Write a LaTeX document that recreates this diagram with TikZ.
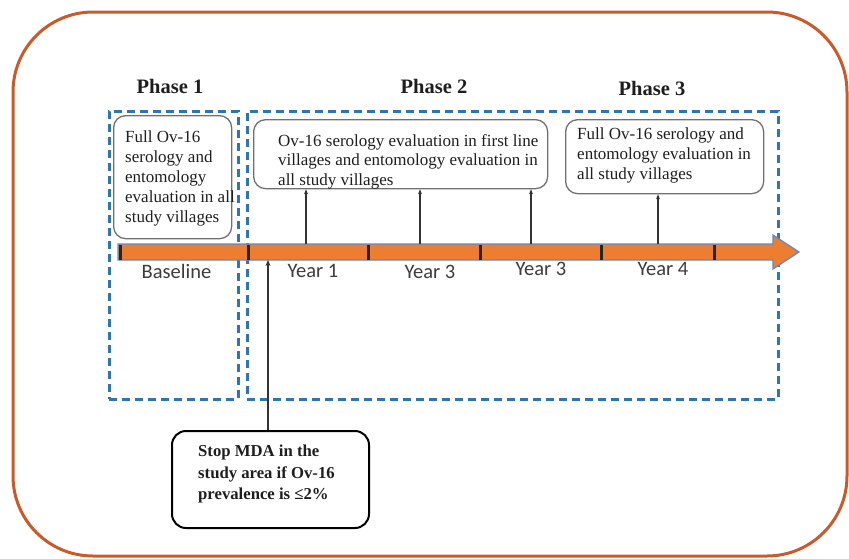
\documentclass[tikz,border=0pt]{standalone}
\usepackage{fontspec}
\setmainfont{Liberation Serif}
\newfontfamily\carlito{Carlito}
\usetikzlibrary{arrows.meta}
\definecolor{outerc}{RGB}{201,90,42}
\definecolor{dashc}{RGB}{46,117,182}
\definecolor{barc}{RGB}{237,125,49}
\definecolor{baredge}{RGB}{91,140,205}
\definecolor{boxgray}{RGB}{112,112,112}
\definecolor{txtc}{RGB}{30,30,30}
\definecolor{lblc}{RGB}{60,60,60}
\begin{document}
\begin{tikzpicture}[x=1pt,y=-1pt,
  phasebox/.style={draw=dashc, line width=2.5pt, dash pattern=on 8pt off 5pt, anchor=north west, inner sep=0pt},
  txtbox/.style={draw=boxgray, line width=1.3pt, rounded corners=12pt, anchor=north west, inner sep=0pt},
  stopbox/.style={draw=black, line width=2pt, rounded corners=14pt, anchor=north west, inner sep=0pt},
  boxtext/.style={anchor=north west, inner sep=0pt, align=left, text=txtc, font=\fontsize{17}{20}\selectfont},
  stoptext/.style={anchor=north west, inner sep=0pt, align=left, text=txtc, font=\bfseries\fontsize{16.7}{21.5}\selectfont},
  phaselbl/.style={anchor=base, inner sep=0pt, font=\bfseries\fontsize{20.5}{24}\selectfont, text=txtc},
  yearlbl/.style={anchor=base, inner sep=0pt, font=\carlito\fontsize{20.5}{24}\selectfont, text=lblc},
  tickmark/.style={line width=3pt, draw=black!85},
  uparrow/.style={draw=black!80, line width=1.2pt, -{Stealth[length=5pt,width=4pt]}},
  mdaarrow/.style={draw=black!80, line width=2pt, -{Stealth[length=6pt,width=5pt]}}
]
\useasboundingbox (0,0) rectangle (849,558);
% outer frame
\draw[outerc, line width=3pt, rounded corners=80pt] (13,12) rectangle (847,556);

% phase labels
\node[phaselbl] (ph1) at (170,93) {Phase 1};
\node[phaselbl] (ph2) at (434,93) {Phase 2};
\node[phaselbl] (ph3) at (652,95) {Phase 3};

% dashed phase boxes
\node[phasebox, minimum width=129pt, minimum height=288pt] (p1) at (108,110) {};
\node[phasebox, minimum width=531pt, minimum height=288pt] (p2) at (246,110) {};

% text boxes
\node[txtbox, minimum width=118pt, minimum height=123pt] (b1) at (113,115) {};
\node[boxtext] (t1) at (125,130) {Full Ov-16\\serology and\\entomology\\evaluation in all\\study villages};

\node[txtbox, minimum width=294pt, minimum height=69pt] (b2) at (253,119) {};
\node[boxtext, font=\fontsize{17}{19.5}\selectfont] (t2) at (278,134) {Ov-16 serology evaluation in first line\\villages and entomology evaluation in\\all study villages};

\node[txtbox, minimum width=198pt, minimum height=74pt] (b3) at (565,119) {};
\node[boxtext] (t3) at (577,127) {Full Ov-16 serology and\\entomology evaluation in\\all study villages};

\node[stopbox, minimum width=197pt, minimum height=97pt] (b4) at (171,430) {};
\node[stoptext] (t4) at (198,445) {Stop MDA in the\\study area if Ov-16\\prevalence is ≤2\%};

% timeline bar
\draw[fill=barc, draw=baredge, line width=1.2pt, line join=miter]
  (118,244) -- (773,244) -- (773,235) -- (799,252) -- (773,269) -- (773,260) -- (118,260) -- cycle;
\foreach \x/\n in {120/k0,248/k1,368/k2,480/k3,601/k4,714/k5}{
  \coordinate (\n t) at (\x,244.5);
  \coordinate (\n b) at (\x,259.5);
  \draw[tickmark] (\n t) -- (\n b);
}

% year labels
\node[yearlbl] (yb) at (176.5,278) {Baseline};
\node[yearlbl] (y1) at (313,277) {Year 1};
\node[yearlbl] (y2) at (430,278) {Year 3};
\node[yearlbl] (y3) at (541,275) {Year 3};
\node[yearlbl] (y4) at (663,275) {Year 4};

% up arrows
\coordinate (a1) at (306,244);
\coordinate (a2) at (420,244);
\coordinate (a3) at (531,244);
\coordinate (a4) at (658,244);
\draw[uparrow] (a1) -- (a1 |- b2.south);
\draw[uparrow] (a2) -- (a2 |- b2.south);
\draw[uparrow] (a3) -- (a3 |- b2.south);
\draw[uparrow] (a4) -- (a4 |- b3.south);

% MDA arrow
\coordinate (m1) at (268,260);
\draw[mdaarrow] (m1 |- b4.north) -- (m1);
\end{tikzpicture}
\end{document}
